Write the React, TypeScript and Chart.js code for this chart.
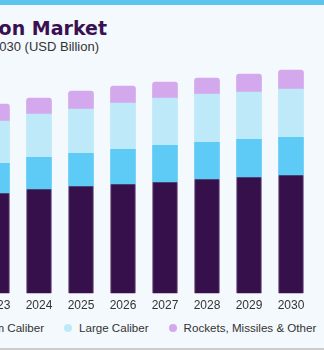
import React, { useEffect, useRef } from "react";
import { Chart, registerables } from "chart.js";

Chart.register(...registerables);

const years = ["2023", "2024", "2025", "2026", "2027", "2028", "2029", "2030"];
const smallCaliber = [10.0, 10.4, 10.7, 10.9, 11.1, 11.4, 11.6, 11.8];
const mediumCaliber = [3.0, 3.2, 3.3, 3.5, 3.7, 3.7, 3.8, 3.8];
const largeCaliber = [4.2, 4.3, 4.4, 4.6, 4.7, 4.8, 4.7, 4.8];
const rockets = [1.7, 1.6, 1.8, 1.7, 1.6, 1.6, 1.8, 1.9];

const seriesNames = ["Small Caliber", "Medium Caliber", "Large Caliber", "Rockets, Missiles & Other"];
const seriesColors = ["#36104a", "#5ecbf7", "#bde9f9", "#d3a8ec"];

const FONT = "'Liberation Sans', Arial, sans-serif";

export default function App() {
  const ref = useRef<HTMLCanvasElement | null>(null);

  useEffect(() => {
    if (!ref.current) return;
    const data = [smallCaliber, mediumCaliber, largeCaliber, rockets];
    const chart = new Chart(ref.current, {
      type: "bar",
      data: {
        labels: years,
        datasets: data.map((d, i) => ({
          label: seriesNames[i],
          data: d,
          backgroundColor: seriesColors[i],
          borderColor: i === 0 ? "#6e4f80" : "rgba(255,255,255,0.35)",
          borderWidth: i === 0 ? { left: 1, right: 1, top: 0, bottom: 0 } : 0,
          borderRadius: i === 3 ? { topLeft: 3, topRight: 3, bottomLeft: 0, bottomRight: 0 } : 0,
          borderSkipped: false,
          barThickness: 25,
        })),
      },
      options: {
        responsive: false,
        animation: false,
        layout: { padding: { top: 53, left: 0, right: 0, bottom: 0 } },
        plugins: {
          legend: { display: false },
          tooltip: { enabled: false },
          title: { display: false },
        },
        scales: {
          x: {
            stacked: true,
            grid: { display: false, drawTicks: false },
            border: { display: false },
            ticks: {
              color: "#333333",
              font: { family: FONT, size: 12 },
              padding: 5,
            },
          },
          y: {
            stacked: true,
            display: false,
            min: 0,
            max: 24,
          },
        },
      },
    });
    return () => chart.destroy();
  }, []);

  const legendItem = (i: number, last: boolean) => (
    <div key={i} style={{ display: "flex", alignItems: "center", marginRight: last ? 0 : 20, whiteSpace: "nowrap" }}>
      <span
        style={{
          width: 8,
          height: 8,
          borderRadius: "50%",
          background: seriesColors[i],
          marginRight: 7,
          display: "inline-block",
        }}
      />
      <span>{seriesNames[i]}</span>
    </div>
  );

  return (
    <div
      style={{
        position: "fixed",
        left: 0,
        top: 0,
        width: 324,
        height: 350,
        overflow: "hidden",
        background: "#f4f9fd",
        fontFamily: FONT,
      }}
    >
      <div style={{ position: "absolute", left: 0, top: 0, width: 324, height: 5, background: "#5ec4ee" }} />
      <div
        style={{
          position: "absolute",
          right: 217,
          top: 16,
          whiteSpace: "nowrap",
          fontSize: 19,
          fontWeight: "bold",
          fontFamily: "'DejaVu Sans', sans-serif",
          color: "#3a1150",
          lineHeight: "24px",
        }}
      >
        U.S. Ammunition Market
      </div>
      <div
        style={{
          position: "absolute",
          right: 225,
          top: 39,
          whiteSpace: "nowrap",
          fontSize: 13,
          color: "#333333",
          lineHeight: "16px",
        }}
      >
        size, by product, 2018 - 2030 (USD Billion)
      </div>
      <canvas
        ref={ref}
        width={336}
        height={318}
        style={{ position: "absolute", left: -24, top: 0, width: 336, height: 318 }}
      />
      <div
        style={{
          position: "absolute",
          right: 280,
          top: 320,
          display: "flex",
          fontSize: 11.6,
          color: "#333333",
          lineHeight: "16px",
        }}
      >
        {legendItem(0, false)}
        {legendItem(1, true)}
      </div>
      <div
        style={{
          position: "absolute",
          left: 64,
          top: 320,
          display: "flex",
          fontSize: 11.6,
          color: "#333333",
          lineHeight: "16px",
        }}
      >
        {legendItem(2, false)}
        {legendItem(3, true)}
      </div>
      <div style={{ position: "absolute", left: 0, bottom: 0, width: 324, height: 2, background: "#cccccc" }} />
    </div>
  );
}
